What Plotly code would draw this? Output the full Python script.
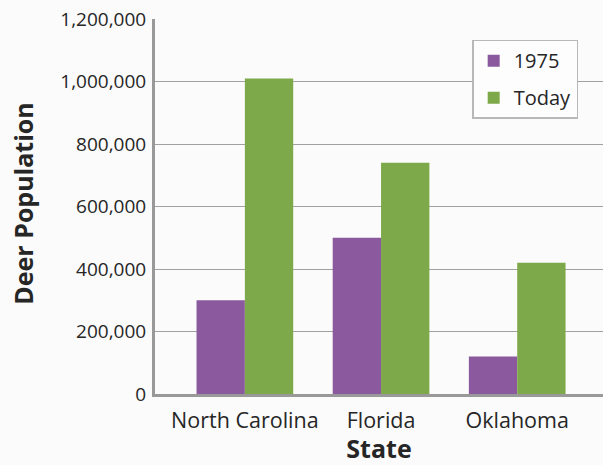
import plotly.graph_objects as go

states = ["North Carolina", "Florida", "Oklahoma"]
pop_1975 = [300000, 500000, 120000]
pop_today = [1010000, 740000, 420000]
y_ticks = [0, 200000, 400000, 600000, 800000, 1000000, 1200000]

purple = "#8b5a9e"
green = "#7ea94a"

fig = go.Figure()
fig.add_trace(go.Bar(x=states, y=pop_1975, name="1975", marker_color=purple,
                     marker_line_width=0, legendgroup="a"))
fig.add_trace(go.Bar(x=states, y=pop_today, name="Today", marker_color=green,
                     marker_line_width=0, legendgroup="b"))

font_family = "Open Sans, Noto Sans, sans-serif"
txt = "#262626"

fig.update_layout(
    width=603, height=465,
    margin=dict(l=155, r=0, t=19, b=71),
    paper_bgcolor="#fbfbfb", plot_bgcolor="#fbfbfb",
    barmode="group", bargap=0.29, bargroupgap=0,
    font=dict(family=font_family, color=txt, size=18),
    showlegend=True,
    legend=dict(x=0.708, y=0.945, xanchor="left", yanchor="top",
                bgcolor="#fdfdfd", bordercolor="#b8b8b8", borderwidth=1.5,
                font=dict(size=20, color=txt),
                tracegroupgap=8, itemsizing="constant"),
    xaxis=dict(range=[-0.66, 2.63], showgrid=False, showline=True,
               linecolor="#999999", linewidth=3, ticks="",
               ticklabelstandoff=5,
               tickfont=dict(size=21.5, color=txt),
               title=dict(text="<b>State</b>", font=dict(size=25, color=txt),
                          standoff=15)),
    yaxis=dict(range=[0, 1200000], tickvals=y_ticks, tickformat=",",
               showgrid=True, gridcolor="#a0a0a0", gridwidth=1,
               showline=True, linecolor="#999999", linewidth=3,
               ticks="", ticklabelstandoff=2, zeroline=False,
               tickfont=dict(size=19, color=txt)),
    annotations=[dict(text="<b>Deer Population</b>", xref="paper", yref="paper",
                      x=-0.295, y=0.507, xanchor="center", yanchor="middle",
                      textangle=-90, showarrow=False,
                      font=dict(size=25, color=txt, family=font_family))],
)

fig.write_html("out.html")
